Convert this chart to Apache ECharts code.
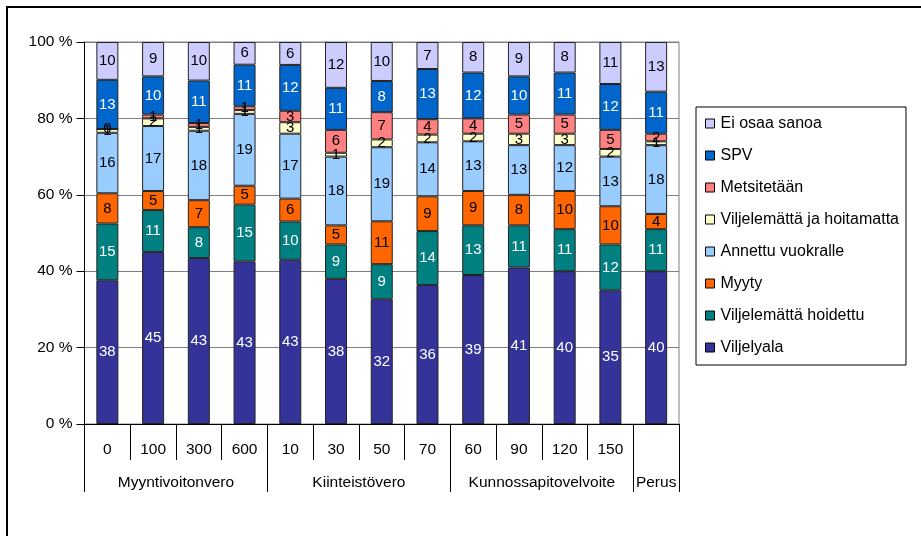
<!DOCTYPE html>
<html>
<head>
<meta charset="utf-8">
<script src="https://cdn.jsdelivr.net/npm/echarts@6/dist/echarts.min.js"></script>
<style>
  html, body { margin: 0; padding: 0; background: #fff; }
  #chart { width: 921px; height: 536px; }
</style>
</head>
<body>
<div id="chart"></div>
<script>
// Scenario columns and their groups
const categories = ['0', '100', '300', '600', '10', '30', '50', '70', '60', '90', '120', '150', ''];
const groups = ['Myyntivoitonvero', 'Kiinteistövero', 'Kunnossapitovelvoite', 'Perus'];
const groupBounds = [0, 4, 8, 12, 13];
const yTicks = [0, 20, 40, 60, 80, 100];

// Answer shares per scenario (%), stacked bottom to top
const viljelyala          = [38, 45, 43, 43, 43, 38, 32, 36, 39, 41, 40, 35, 40];
const viljelemattaHoid    = [15, 11,  8, 15, 10,  9,  9, 14, 13, 11, 11, 12, 11];
const myyty               = [ 8,  5,  7,  5,  6,  5, 11,  9,  9,  8, 10, 10,  4];
const annettuVuokralle    = [16, 17, 18, 19, 17, 18, 19, 14, 13, 13, 12, 13, 18];
const viljelemattaHoitam  = [ 1,  2,  1,  1,  3,  1,  2,  2,  2,  3,  3,  2,  1];
const metsitetaan         = [ 0,  1,  1,  1,  3,  6,  7,  4,  4,  5,  5,  5,  2];
const spv                 = [13, 10, 11, 11, 12, 11,  8, 13, 12, 10, 11, 12, 11];
const eiOsaaSanoa         = [10,  9, 10,  6,  6, 12, 10,  7,  8,  9,  8, 11, 13];

const seriesDefs = [
  { name: 'Viljelyala', data: viljelyala, color: '#333399', text: '#fff' },
  { name: 'Viljelemättä hoidettu', data: viljelemattaHoid, color: '#008080', text: '#fff' },
  { name: 'Myyty', data: myyty, color: '#FF6600', text: '#000' },
  { name: 'Annettu vuokralle', data: annettuVuokralle, color: '#99CCFF', text: '#000' },
  { name: 'Viljelemättä ja hoitamatta', data: viljelemattaHoitam, color: '#FFFFCC', text: '#000' },
  { name: 'Metsitetään', data: metsitetaan, color: '#FF8080', text: '#000' },
  { name: 'SPV', data: spv, color: '#0066CC', text: '#fff' },
  { name: 'Ei osaa sanoa', data: eiOsaaSanoa, color: '#CCCCFF', text: '#000' }
];

// 100 % stacking: each column is scaled by its own total
const totals = categories.map((_, i) => seriesDefs.reduce((s, d) => s + d.data[i], 0));

const FONT = '"Liberation Sans", Arial, sans-serif';

const series = seriesDefs.map(d => ({
  name: d.name,
  type: 'bar',
  stack: 'share',
  barWidth: 22,
  xAxisIndex: 0,
  itemStyle: { color: d.color, borderColor: '#222', borderWidth: 1 },
  label: {
    show: true,
    position: 'inside',
    color: d.text,
    fontFamily: FONT,
    fontSize: 15,
    formatter: p => String(d.data[p.dataIndex])
  },
  emphasis: { disabled: true },
  data: d.data.map((v, i) => v / totals[i] * 100)
}));

const chart = echarts.init(document.getElementById('chart'), null, { renderer: 'canvas' });
chart.setOption({
  animation: false,
  backgroundColor: '#fff',
  textStyle: { fontFamily: FONT },
  grid: {
    left: 84.5, right: 242, top: 42, bottom: 112,
    show: true, borderColor: '#808080', borderWidth: 1
  },
  legend: {
    orient: 'vertical',
    left: 696, top: 107,
    data: seriesDefs.map(d => d.name).reverse(),
    icon: 'rect',
    itemWidth: 9, itemHeight: 9,
    itemGap: 15,
    padding: [8, 7, 9, 9],
    borderColor: '#000', borderWidth: 1,
    itemStyle: { borderColor: '#000', borderWidth: 1 },
    textStyle: { fontFamily: FONT, fontSize: 16, color: '#000', lineHeight: 17, padding: [0, 0, 0, 1] },
    selectedMode: false
  },
  xAxis: [
    {
      type: 'category',
      data: categories,
      boundaryGap: true,
      axisLine: { lineStyle: { color: '#000', width: 1 } },
      axisTick: { show: true, interval: 0, length: 36, lineStyle: { color: '#000' } },
      axisLabel: { interval: 0, margin: 18, color: '#000', fontFamily: FONT, fontSize: 15.5 }
    },
    {
      type: 'value',
      position: 'bottom',
      min: 0, max: 13,
      axisLine: { show: false },
      splitLine: { show: false },
      axisTick: { show: true, length: 68, customValues: groupBounds, lineStyle: { color: '#000' } },
      axisLabel: {
        margin: 51, color: '#000', fontFamily: FONT, fontSize: 15.5,
        customValues: groupBounds.slice(0, -1).map((b, i) => (b + groupBounds[i + 1]) / 2),
        formatter: v => {
          const i = groupBounds.findIndex((b, k) => k < groupBounds.length - 1 && v > b && v < groupBounds[k + 1]);
          return i >= 0 ? groups[i] : '';
        }
      }
    }
  ],
  yAxis: {
    type: 'value',
    min: 0, max: 100, interval: 20,
    axisLine: { show: true, lineStyle: { color: '#000' } },
    axisTick: { show: true, length: 8, lineStyle: { color: '#000' } },
    splitLine: { show: true, lineStyle: { color: '#808080', width: 1 } },
    axisLabel: {
      margin: 12,
      color: '#000', fontFamily: FONT, fontSize: 15.5,
      customValues: yTicks,
      formatter: v => v + ' %'
    }
  },
  graphic: [
    { type: 'line', shape: { x1: 6, y1: 7, x2: 921, y2: 7 }, style: { stroke: '#000', lineWidth: 2 } },
    { type: 'line', shape: { x1: 7, y1: 6, x2: 7, y2: 536 }, style: { stroke: '#000', lineWidth: 2 } }
  ],
  series: series
});
</script>
</body>
</html>
